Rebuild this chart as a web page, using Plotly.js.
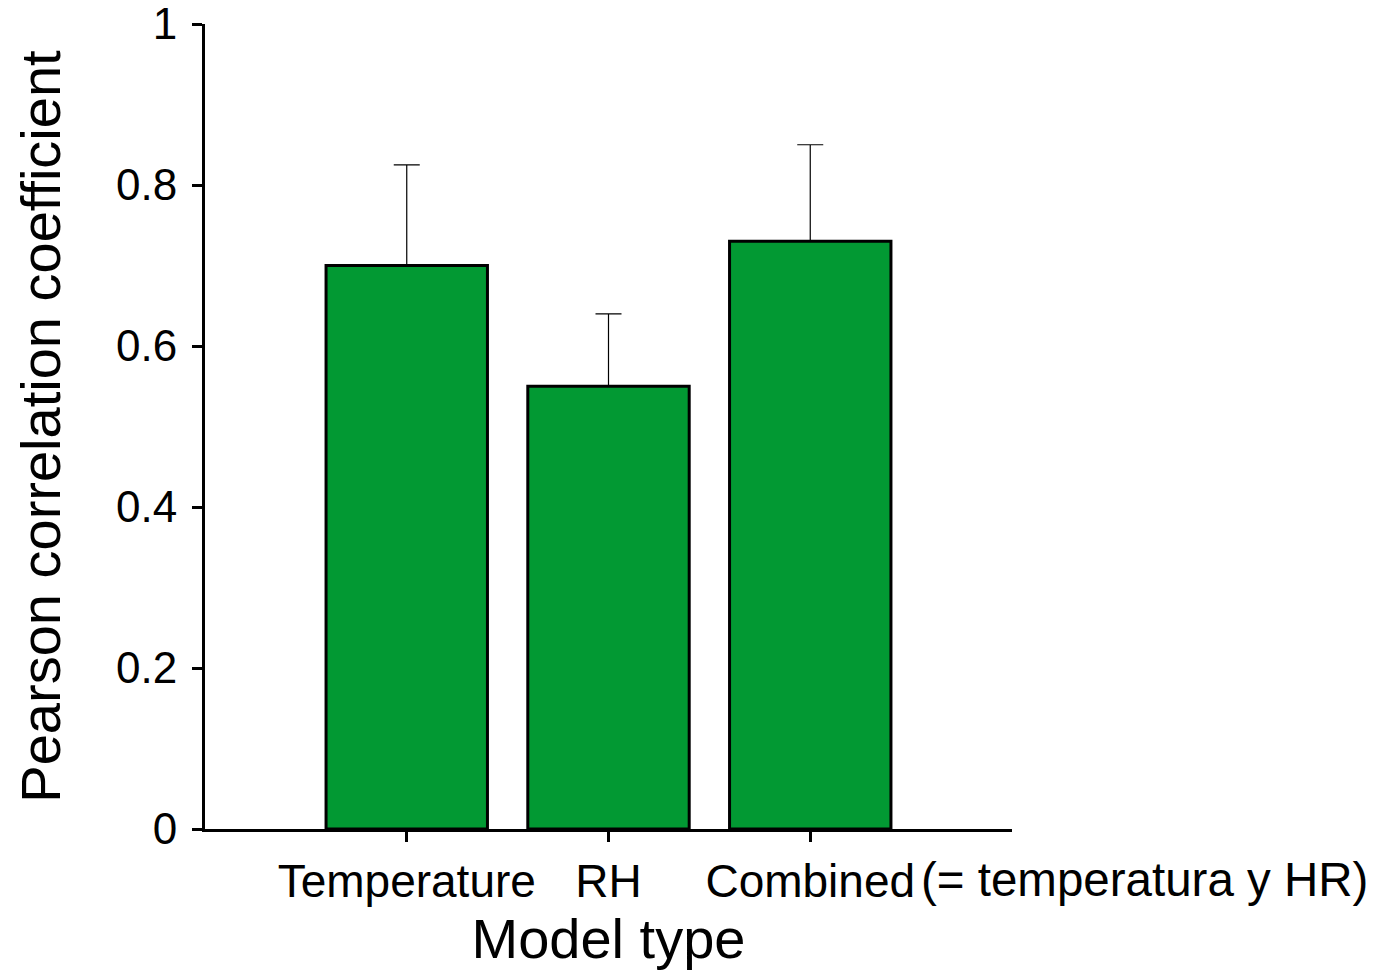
<!DOCTYPE html>
<html>
<head>
<meta charset="utf-8">
<script src="https://cdn.plot.ly/plotly-3.0.1.min.js"></script>
<style>
  html, body { margin: 0; padding: 0; background: #ffffff; }
  #chart { width: 1384px; height: 971px; }
</style>
</head>
<body>
<div id="chart"></div>
<script>
// Model types and their mean Pearson correlation with upper error
const modelTypes = ['Temperature', 'RH', 'Combined'];
const tickLabels = ['Temperature', 'RH', 'Combined'];
const pearsonR = [0.70, 0.55, 0.73];
const errorUp = [0.125, 0.09, 0.12];
const combinedNote = '(= temperatura y HR)';
const yTicks = [0, 0.2, 0.4, 0.6, 0.8, 1];
const yTickLabels = ['0', '0.2', '0.4', '0.6', '0.8', '1'];

const FONT = 'Liberation Sans, Arial, Helvetica, sans-serif';

const trace = {
  type: 'bar',
  x: modelTypes,
  y: pearsonR,
  width: 0.8,
  marker: { color: '#029933', line: { color: '#000000', width: 3 } },
  error_y: {
    type: 'data',
    symmetric: false,
    array: errorUp,
    arrayminus: errorUp.map(() => 0),
    color: '#000000',
    thickness: 1.2,
    width: 13
  },
  hoverinfo: 'x+y'
};

const layout = {
  width: 1384,
  height: 971,
  margin: { l: 205, r: 372, t: 24, b: 142 },
  paper_bgcolor: '#ffffff',
  plot_bgcolor: '#ffffff',
  showlegend: false,
  font: { family: FONT, color: '#000000' },
  xaxis: {
    type: 'category',
    range: [-1, 3],
    tickvals: modelTypes,
    ticktext: tickLabels,
    showline: true,
    linecolor: '#000000',
    linewidth: 3,
    ticks: 'outside',
    ticklen: 10,
    tickwidth: 3,
    tickcolor: '#000000',
    showgrid: false,
    zeroline: false,
    tickfont: { family: FONT, size: 46, color: '#000000' },
    title: { text: 'Model type', font: { family: FONT, size: 56, color: '#000000' }, standoff: 2 },
    automargin: false
  },
  yaxis: {
    range: [0, 1],
    tickmode: 'array',
    tickvals: yTicks,
    ticktext: yTickLabels,
    showline: true,
    linecolor: '#000000',
    linewidth: 3,
    ticks: 'outside',
    ticklen: 10,
    tickwidth: 3,
    tickcolor: '#000000',
    ticklabelstandoff: 6,
    ticklabeloverflow: 'allow',
    showgrid: false,
    zeroline: false,
    tickfont: { family: FONT, size: 44, color: '#000000' },
    title: { text: 'Pearson correlation coefficient', font: { family: FONT, size: 56, color: '#000000' }, standoff: 38 },
    automargin: false
  },
  annotations: [{
    text: combinedNote,
    xref: 'x',
    yref: 'paper',
    x: modelTypes[2],
    y: 0,
    xanchor: 'left',
    yanchor: 'top',
    xshift: 109,
    yshift: -22,
    showarrow: false,
    font: { family: FONT, size: 47.5, color: '#000000' }
  }]
};

Plotly.newPlot('chart', [trace], layout, { displayModeBar: false, staticPlot: true });
</script>
</body>
</html>
